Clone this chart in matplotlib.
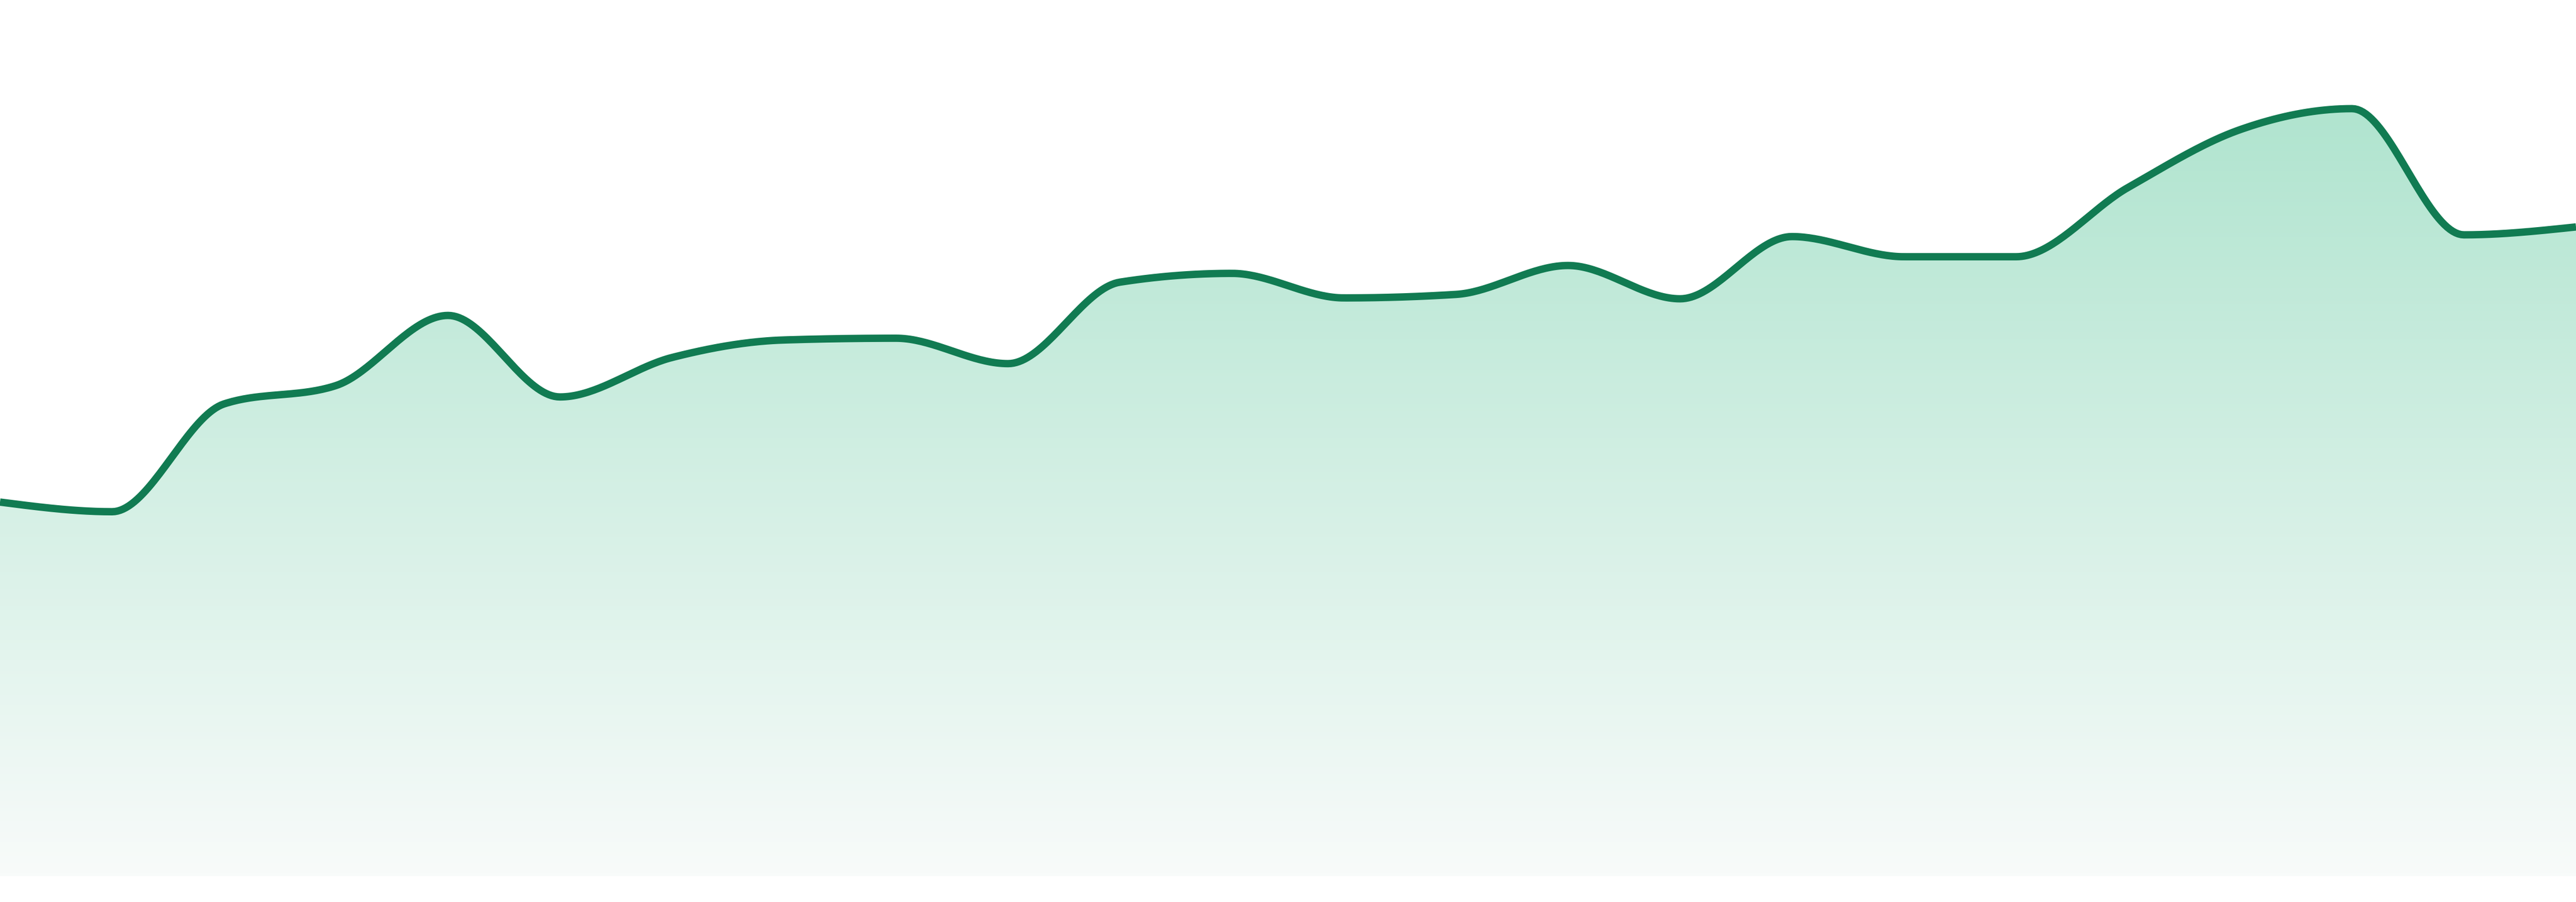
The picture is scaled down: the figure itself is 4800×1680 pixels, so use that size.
import numpy as np
import matplotlib.pyplot as plt
from matplotlib.path import Path
from matplotlib.colors import LinearSegmentedColormap

# =====================================================
# Data (24 evenly spaced samples, value in % of height)
# =====================================================

idx = list(range(24))

values = [
    42.7, 41.6, 53.9, 56.0, 64.0, 54.7, 59.2, 61.2,
    61.4, 58.5, 67.8, 68.8, 66.0, 66.4, 69.7, 65.9,
    73.0, 70.7, 70.7, 78.6, 85.2, 87.6, 73.2, 74.1,
]

LINE_COLOR = '#117b52'
TOP_COLOR = '#a6e1c9'
BOTTOM_COLOR = '#f8fbfa'


# =====================================================
# Monotone X smoothing (same idea as d3.curveMonotoneX)
# =====================================================

def monotone(x, y, steps=40):

    x = np.asarray(x, float)
    y = np.asarray(y, float)
    n = len(x)

    h = np.diff(x)
    s = np.diff(y) / h

    t = np.zeros(n)
    for i in range(1, n-1):
        p = (s[i-1]*h[i] + s[i]*h[i-1]) / (h[i-1] + h[i])
        t[i] = (np.sign(s[i-1]) + np.sign(s[i])) * min(
            abs(s[i-1]), abs(s[i]), 0.5*abs(p))

    t[0] = (3*s[0] - t[1]) / 2
    t[-1] = (3*s[-1] - t[-2]) / 2

    xs, ys = [], []
    for i in range(n-1):
        u = np.linspace(0, 1, steps, endpoint=(i == n-2))
        dx = h[i]
        h00 = 2*u**3 - 3*u**2 + 1
        h10 = u**3 - 2*u**2 + u
        h01 = -2*u**3 + 3*u**2
        h11 = u**3 - u**2
        xs.append(x[i] + u*dx)
        ys.append(h00*y[i] + h10*dx*t[i] + h01*y[i+1] + h11*dx*t[i+1])

    return np.concatenate(xs), np.concatenate(ys)


# =====================================================
# Plot
# =====================================================

def main():

    fig = plt.figure(figsize=(16, 5.6), dpi=300)
    ax = fig.add_axes([0, 48/1680, 1, 1632/1680])

    xs, ys = monotone(idx, values)

    ax.set_xlim(idx[0], idx[-1])
    ax.set_ylim(0, 100)
    ax.axis('off')

    # gradient fill under the curve
    cmap = LinearSegmentedColormap.from_list('fade', [BOTTOM_COLOR, TOP_COLOR])
    grad = np.linspace(0, 1, 256).reshape(-1, 1)
    im = ax.imshow(grad, cmap=cmap, origin='lower', aspect='auto',
                   extent=[idx[0], idx[-1], 0, 100], zorder=1)

    px = np.concatenate([xs, [xs[-1], xs[0], xs[0]]])
    py = np.concatenate([ys, [0, 0, ys[0]]])
    codes = [Path.MOVETO] + [Path.LINETO]*(len(px)-2) + [Path.CLOSEPOLY]
    clip = Path(np.column_stack([px, py]), codes)
    im.set_clip_path(clip, transform=ax.transData)

    ax.plot(xs, ys, color=LINE_COLOR, lw=3.3, solid_capstyle='butt',
            solid_joinstyle='round', zorder=2)

    fig.savefig('out.png', dpi=300, facecolor='white')


if __name__ == "__main__":
    main()
